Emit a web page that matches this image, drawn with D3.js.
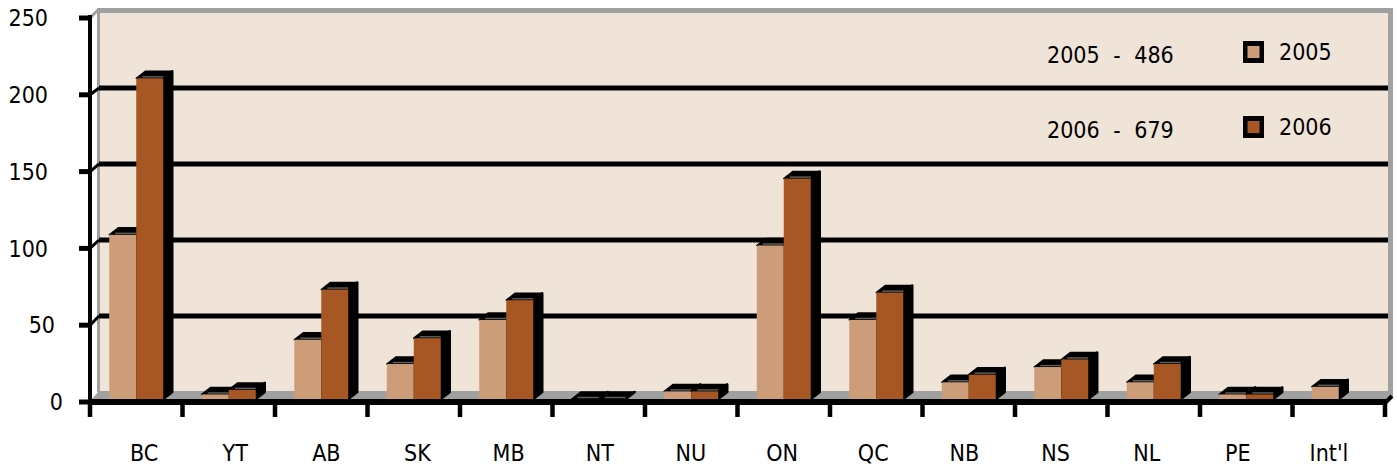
<!DOCTYPE html>
<html>
<head>
<meta charset="utf-8">
<script src="https://cdn.jsdelivr.net/npm/d3@7"></script>
<style>
  html, body { margin: 0; padding: 0; background: #ffffff; }
  svg { display: block; }
  text { font-family: "DejaVu Sans Condensed", "DejaVu Sans", sans-serif; fill: #000; }
</style>
</head>
<body>
<div id="chart"></div>
<script>
// ---- data ----
const categories = ["BC", "YT", "AB", "SK", "MB", "NT", "NU", "ON", "QC", "NB", "NS", "NL", "PE", "Int'l"];
const seriesNames = ["2005", "2006"];
const values2005 = [108, 3, 39, 23, 52, 0, 5, 101, 52, 11, 21, 11, 3, 8];
const values2006 = [211, 6, 72, 40, 65, 0, 5, 145, 70, 16, 26, 23, 3, null];
const seriesTotals = [486, 679];
const yTicks = [0, 50, 100, 150, 200, 250];

// ---- layout / style ----
const W = 1397, H = 470;
const colors = { "2005": "#CD9D7A", "2006": "#A75723" };
const wallColor = "#F0E4D9";
const grey = "#A0A0A0";
const depthX = 9, depthY = -7;
const fontSize = 23;

const svg = d3.select("#chart").append("svg").attr("width", W).attr("height", H);

const x = d3.scaleBand().domain(categories).range([90, 1385]).padding(0);
const xs = d3.scaleBand().domain(seriesNames).range([-27, 27]).padding(0);
const labelX = d3.scalePoint().domain(categories).range([144, 1329]);
const y = d3.scaleLinear().domain([0, 250]).range([399, 19]);        // bar front plane
const yAxis = d3.scaleLinear().domain([0, 250]).range([402, 18]);    // front axis
const wallY = v => y(v) + depthY;

const x0 = 99, x1 = 1388;

// wall
svg.append("rect").attr("x", x0).attr("y", wallY(250)).attr("width", x1 - x0).attr("height", wallY(0) - wallY(250)).attr("fill", wallColor);
// wall borders
svg.append("rect").attr("x", 97).attr("y", 8).attr("width", 1393 - 97).attr("height", 5).attr("fill", grey);
svg.append("rect").attr("x", 1388).attr("y", 8).attr("width", 5).attr("height", 398 - 8).attr("fill", grey);
svg.append("rect").attr("x", 97).attr("y", 10).attr("width", 3).attr("height", wallY(0) - 10).attr("fill", grey);
svg.append("line").attr("x1", 91).attr("y1", 17).attr("x2", 98).attr("y2", 10).attr("stroke", grey).attr("stroke-width", 3);
// floor
svg.append("polygon")
  .attr("points", [[91, 400], [99, wallY(0) - 1], [1392, wallY(0) - 1], [1386, 400]].map(p => p.join(",")).join(" "))
  .attr("fill", grey);

// gridlines on wall
const grid = yTicks.filter(v => v > 0 && v < 250);
svg.append("g").selectAll("line").data(grid).join("line")
  .attr("x1", x0).attr("x2", x1)
  .attr("y1", d => wallY(d)).attr("y2", d => wallY(d))
  .attr("stroke", "#000").attr("stroke-width", 5);

// bars
const rows = categories.map((c, i) => ({ c, vals: [values2005[i], values2006[i]] }));
const barsG = svg.append("g");
rows.forEach(r => {
  const cx = x(r.c) + x.bandwidth() / 2;
  seriesNames.forEach((s, si) => {
    const v = r.vals[si];
    if (v === null || v === undefined) return;
    const xl = cx + xs(s), xr = xl + xs.bandwidth();
    const yt = y(v), yb = y(0);
    const g = barsG.append("g");
    // top face
    g.append("polygon")
      .attr("points", [[xl, yt], [xl + depthX, yt + depthY], [xr + depthX, yt + depthY], [xr, yt]].map(p => p.join(",")).join(" "))
      .attr("fill", "#000").attr("stroke", "#000").attr("stroke-width", 1.5).attr("stroke-linejoin", "round");
    // side face
    g.append("polygon")
      .attr("points", [[xr, yt], [xr + depthX, yt + depthY], [xr + depthX, yb + depthY], [xr, yb]].map(p => p.join(",")).join(" "))
      .attr("fill", "#000").attr("stroke", "#000").attr("stroke-width", 2.5).attr("stroke-linejoin", "round");
    // highlight on top face
    g.append("line").attr("x1", xl + 6).attr("x2", xr).attr("y1", yt - 1.5).attr("y2", yt - 1.5)
      .attr("stroke", "#5c5c5c").attr("stroke-width", 1.5);
    // front face
    g.append("rect").attr("x", xl).attr("y", yt).attr("width", xr - xl).attr("height", Math.max(0, yb - yt))
      .attr("fill", colors[s]);
  });
});

// x axis
svg.append("line").attr("x1", 88).attr("x2", 1387).attr("y1", yAxis(0)).attr("y2", yAxis(0))
  .attr("stroke", "#000").attr("stroke-width", 6);
svg.append("line").attr("x1", 1385).attr("y1", yAxis(0) + 1).attr("x2", 1392).attr("y2", yAxis(0) - 6)
  .attr("stroke", "#000").attr("stroke-width", 4);
const tickXs = categories.map(c => x(c)).concat([x.range()[1]]);
svg.append("g").selectAll("line").data(tickXs).join("line")
  .attr("x1", d => d).attr("x2", d => d).attr("y1", yAxis(0)).attr("y2", 417)
  .attr("stroke", "#000").attr("stroke-width", 4.5);

// y axis
svg.append("line").attr("x1", 90).attr("x2", 90).attr("y1", 15).attr("y2", 405)
  .attr("stroke", "#000").attr("stroke-width", 4);
svg.append("g").selectAll("line").data(yTicks).join("line")
  .attr("x1", 79).attr("x2", 92).attr("y1", d => yAxis(d)).attr("y2", d => yAxis(d))
  .attr("stroke", "#000").attr("stroke-width", 5);
svg.append("g").selectAll("line").data(grid).join("line")
  .attr("x1", 90).attr("y1", d => yAxis(d)).attr("x2", 99).attr("y2", d => wallY(d))
  .attr("stroke", "#000").attr("stroke-width", 3);

// y tick labels
const yLabelRight = { 0: 63, 50: 55 };
svg.append("g").selectAll("text").data(yTicks).join("text")
  .attr("x", d => yLabelRight[d] !== undefined ? yLabelRight[d] : 48)
  .attr("y", d => yAxis(d))
  .attr("dy", "0.36em")
  .attr("text-anchor", "end")
  .style("font-size", fontSize + "px")
  .text(d => d);

// category labels
svg.append("g").selectAll("text").data(categories).join("text")
  .attr("x", d => labelX(d)).attr("y", 453).attr("dy", "0.36em")
  .attr("text-anchor", "middle")
  .style("font-size", fontSize + "px")
  .text(d => d);

// totals annotation
const legendY = [52, 127];
svg.append("g").selectAll("text").data(seriesNames).join("text")
  .attr("x", 1047).attr("y", (d, i) => legendY[i] + 3).attr("dy", "0.36em")
  .style("font-size", fontSize + "px").style("word-spacing", "7px")
  .text((d, i) => d + " - " + seriesTotals[i]);

// legend
const leg = svg.append("g").selectAll("g").data(seriesNames).join("g")
  .attr("transform", (d, i) => `translate(1243,${legendY[i] - 11})`);
leg.append("rect").attr("width", 21).attr("height", 22).attr("fill", "#000");
leg.append("rect").attr("x", 4.5).attr("y", 5).attr("width", 12).attr("height", 12).attr("fill", d => colors[d]);
leg.append("text").attr("x", 36).attr("y", 11).attr("dy", "0.36em")
  .style("font-size", fontSize + "px").text(d => d);
</script>
</body>
</html>
